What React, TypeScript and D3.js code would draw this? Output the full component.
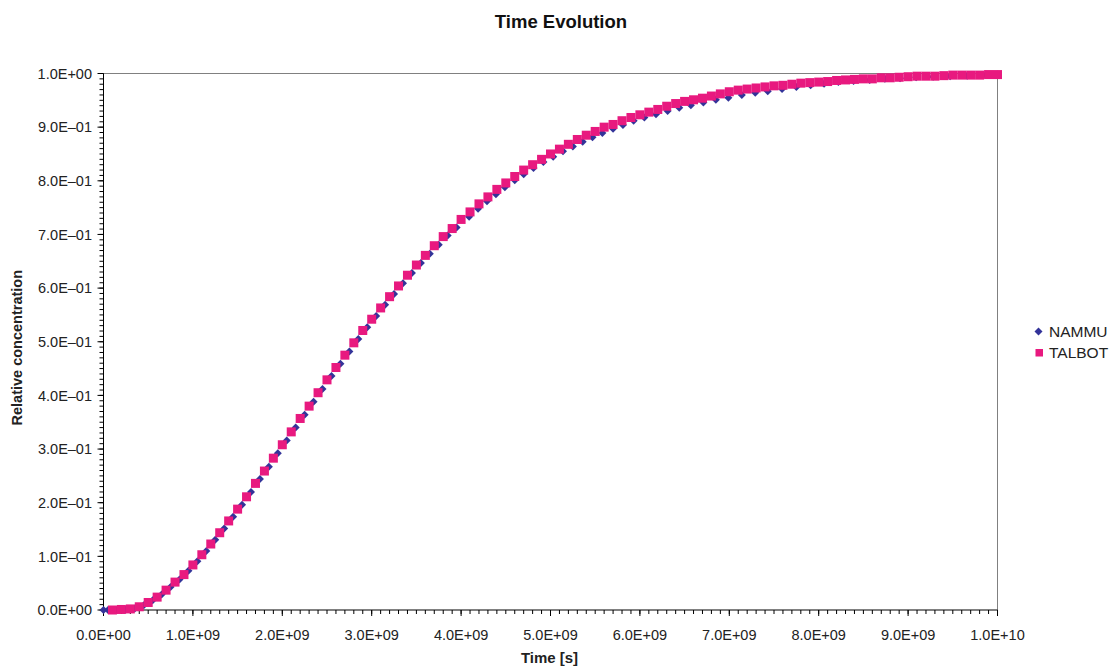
import React from "react";
import * as d3 from "d3";

// TALBOT: times in units of 1e8 s (1..100)
const talbotTimes: number[] = [
  1, 2, 3, 4, 5, 6, 7, 8, 9, 10, 11, 12, 13, 14, 15, 16, 17, 18, 19, 20,
  21, 22, 23, 24, 25, 26, 27, 28, 29, 30, 31, 32, 33, 34, 35, 36, 37, 38, 39, 40,
  41, 42, 43, 44, 45, 46, 47, 48, 49, 50, 51, 52, 53, 54, 55, 56, 57, 58, 59, 60,
  61, 62, 63, 64, 65, 66, 67, 68, 69, 70, 71, 72, 73, 74, 75, 76, 77, 78, 79, 80,
  81, 82, 83, 84, 85, 86, 87, 88, 89, 90, 91, 92, 93, 94, 95, 96, 97, 98, 99, 100,
];
const talbotValues: number[] = [
  0.0, 0.001, 0.002, 0.006, 0.014, 0.024, 0.037, 0.052, 0.066, 0.084,
  0.103, 0.123, 0.144, 0.166, 0.188, 0.211, 0.236, 0.259, 0.283, 0.308,
  0.332, 0.357, 0.38, 0.405, 0.429, 0.452, 0.475, 0.498, 0.521, 0.542,
  0.563, 0.584, 0.604, 0.624, 0.643, 0.661, 0.679, 0.696, 0.711, 0.728,
  0.742, 0.757, 0.77, 0.784, 0.796, 0.808, 0.82, 0.83, 0.84, 0.85,
  0.859, 0.868, 0.877, 0.885, 0.892, 0.9, 0.905, 0.912, 0.918, 0.923,
  0.928, 0.933, 0.939, 0.944, 0.948, 0.951, 0.954, 0.958, 0.962, 0.966,
  0.969, 0.971, 0.973, 0.975, 0.977, 0.978, 0.98, 0.982, 0.983, 0.984,
  0.985, 0.987, 0.988, 0.989, 0.99, 0.99, 0.992, 0.992, 0.993, 0.994,
  0.995, 0.995, 0.995, 0.996, 0.997, 0.997, 0.997, 0.997, 0.998, 0.998,
];

// NAMMU: times in units of 1e9 s
const nammuTimes: number[] = [
  0, 0.05, 0.15, 0.25, 0.35, 0.45, 0.55, 0.65, 0.75, 0.85, 0.95, 1.05, 1.15,
  1.25, 1.35, 1.45, 1.55, 1.65, 1.75, 1.85, 1.95, 2.05, 2.15, 2.25, 2.35, 2.45,
  2.55, 2.65, 2.75, 2.85, 2.95, 3.05, 3.15, 3.25, 3.35, 3.45, 3.55, 3.65, 3.75,
  3.85, 3.95, 4.09, 4.19, 4.29, 4.39, 4.49, 4.6, 4.7, 4.81, 4.92, 5.03, 5.14,
  5.25, 5.36, 5.47, 5.58, 5.7, 5.81, 5.93, 6.05, 6.18, 6.31, 6.44, 6.57, 6.71,
  6.85, 6.99, 7.14, 7.29, 7.43, 7.59, 7.75, 7.91, 8.06, 8.22, 8.39, 8.57, 8.74,
  8.91, 9.09, 9.28, 9.47, 9.66, 9.84, 10.0,
];
const nammuValues: number[] = [
  0, 0.0, 0.0, 0.001, 0.003, 0.009, 0.018, 0.029, 0.043, 0.057, 0.073, 0.091,
  0.11, 0.131, 0.152, 0.174, 0.196, 0.22, 0.244, 0.267, 0.292, 0.316, 0.34,
  0.364, 0.388, 0.412, 0.436, 0.459, 0.482, 0.505, 0.527, 0.548, 0.569, 0.589,
  0.609, 0.628, 0.647, 0.664, 0.681, 0.698, 0.713, 0.733, 0.748, 0.762, 0.775,
  0.788, 0.801, 0.812, 0.824, 0.835, 0.845, 0.855, 0.864, 0.873, 0.881, 0.889,
  0.897, 0.904, 0.912, 0.918, 0.924, 0.93, 0.936, 0.941, 0.946, 0.951, 0.955,
  0.96, 0.964, 0.967, 0.971, 0.975, 0.978, 0.981, 0.984, 0.986, 0.988, 0.99,
  0.991, 0.993, 0.994, 0.995, 0.996, 0.997, 0.998,
];

const xTickLabels: string[] = [
  "0.0E+00", "1.0E+09", "2.0E+09", "3.0E+09", "4.0E+09", "5.0E+09",
  "6.0E+09", "7.0E+09", "8.0E+09", "9.0E+09", "1.0E+10",
];
const yTickLabels: string[] = [
  "0.0E+00", "1.0E\u201301", "2.0E\u201301", "3.0E\u201301", "4.0E\u201301", "5.0E\u201301",
  "6.0E\u201301", "7.0E\u201301", "8.0E\u201301", "9.0E\u201301", "1.0E+00",
];

const seriesNames = ["NAMMU", "TALBOT"];
const NAVY = "#333399";
const PINK = "#E8197F";
const FONT = "'Liberation Sans', Arial, sans-serif";

export default function App() {
  const W = 1116;
  const H = 671;
  const left = 103.5;
  const right = 997.5;
  const top = 73.5;
  const bottom = 610;

  const x = d3.scaleLinear().domain([0, 1e10]).range([left, right]);
  const y = d3.scaleLinear().domain([0, 1]).range([bottom, top]);

  const xMajor = d3.range(0, 11).map((i) => i * 1e9);
  const xMinor = d3.range(0, 101).map((i) => i * 1e8);
  const yMajor = d3.range(0, 11).map((i) => i / 10);
  const yMinor = d3.range(0, 101).map((i) => i / 100);

  const nammu = nammuTimes.map((t, i) => ({ t: t * 1e9, v: nammuValues[i] }));
  const talbot = talbotTimes.map((t, i) => ({ t: t * 1e8, v: talbotValues[i] }));

  const diamond = (cx: number, cy: number, r: number) =>
    `M${cx},${cy - r}L${cx + r},${cy}L${cx},${cy + r}L${cx - r},${cy}Z`;

  return (
    <svg
      width={W}
      height={H}
      style={{ position: "absolute", left: 0, top: 0, background: "#fff" }}
    >
      <text
        x={561}
        y={28}
        textAnchor="middle"
        fontFamily={FONT}
        fontWeight="bold"
        fontSize={18.5}
        fill="#111"
      >
        Time Evolution
      </text>

      {/* plot frame */}
      <line x1={left} x2={right} y1={top} y2={top} stroke="#808080" strokeWidth={1} />
      <line x1={right} x2={right} y1={top} y2={bottom} stroke="#808080" strokeWidth={1} />

      {yMinor.map((v, i) => (
        <line key={"ym" + i} x1={left - 4} x2={left} y1={y(v)} y2={y(v)} stroke="#000" strokeWidth={1} />
      ))}
      {yMajor.map((v, i) => (
        <line key={"yM" + i} x1={left - 6} x2={left} y1={y(v)} y2={y(v)} stroke="#000" strokeWidth={1} />
      ))}
      {xMinor.map((v, i) => (
        <line key={"xm" + i} x1={x(v)} x2={x(v)} y1={bottom} y2={bottom + 4} stroke="#000" strokeWidth={1} />
      ))}
      {xMajor.map((v, i) => (
        <line key={"xM" + i} x1={x(v)} x2={x(v)} y1={bottom} y2={bottom + 6} stroke="#000" strokeWidth={1} />
      ))}
      <line x1={left} x2={left} y1={top} y2={bottom} stroke="#000" strokeWidth={1} />
      <line x1={left} x2={right} y1={bottom} y2={bottom} stroke="#000" strokeWidth={1} />

      {yMajor.map((v, i) => (
        <text
          key={"yl" + i}
          x={92}
          y={y(v)}
          dy="0.36em"
          textAnchor="end"
          fontFamily={FONT}
          fontSize={14.5}
          fill="#222"
        >
          {yTickLabels[i]}
        </text>
      ))}
      {xMajor.map((v, i) => (
        <text
          key={"xl" + i}
          x={x(v)}
          y={639.5}
          textAnchor="middle"
          fontFamily={FONT}
          fontSize={14.5}
          fill="#222"
        >
          {xTickLabels[i]}
        </text>
      ))}

      <text
        x={549.5}
        y={663}
        textAnchor="middle"
        fontFamily={FONT}
        fontWeight="bold"
        fontSize={15}
        fill="#222"
      >
        Time [s]
      </text>
      <text
        transform={`translate(22,${(top + bottom) / 2 + 6}) rotate(-90)`}
        textAnchor="middle"
        fontFamily={FONT}
        fontWeight="bold"
        fontSize={14.5}
        fill="#222"
      >
        Relative concentration
      </text>

      {nammu.map((d, i) => (
        <path key={"n" + i} d={diamond(x(d.t), y(d.v), 4)} fill={NAVY} />
      ))}
      {talbot.map((d, i) => (
        <rect key={"t" + i} x={x(d.t) - 4.5} y={y(d.v) - 4.5} width={9} height={9} fill={PINK} />
      ))}

      {/* legend */}
      <path d={diamond(1038.5, 331.5, 4)} fill={NAVY} />
      <text x={1049} y={337} fontFamily={FONT} fontSize={15.5} fill="#222">
        {seriesNames[0]}
      </text>
      <rect x={1035.5} y={349} width={7.5} height={7.5} fill={PINK} />
      <text x={1049} y={358} fontFamily={FONT} fontSize={15.5} fill="#222">
        {seriesNames[1]}
      </text>
    </svg>
  );
}
